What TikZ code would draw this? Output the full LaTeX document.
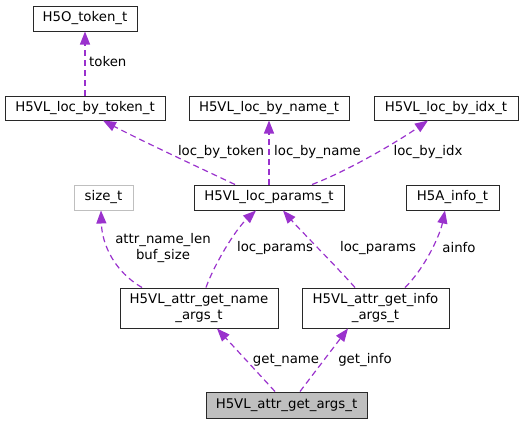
\documentclass[tikz,border=0pt]{standalone}
\usepackage{fontspec}
\setmainfont{DejaVu Sans}
\usetikzlibrary{arrows.meta,calc}
\definecolor{edgec}{RGB}{154,50,205}
\definecolor{boxc}{RGB}{40,40,40}
\definecolor{lgray}{RGB}{191,191,191}
\tikzset{
  box/.style={draw=boxc, line width=1pt, inner sep=0pt, font=\fontsize{13.3}{15.5}\selectfont, align=center},
  edge/.style={draw=edgec, line width=1.2pt, dash pattern=on 6pt off 4pt, -{Triangle[length=13pt,width=10pt]}},
  lbl/.style={font=\fontsize{13.3}{15.5}\selectfont, inner sep=0pt, align=center}
}
\begin{document}
\begin{tikzpicture}[x=1pt,y=-1pt]
\useasboundingbox (0,0) rectangle (525,424);
% nodes
\node[box, minimum width=104pt, minimum height=25pt] (tok) at (85,18.5) {H5O\_token\_t};
\node[box, minimum width=160pt, minimum height=24pt] (lbt) at (85,108) {H5VL\_loc\_by\_token\_t};
\node[box, minimum width=160pt, minimum height=24pt] (lbn) at (269,108) {H5VL\_loc\_by\_name\_t};
\node[box, minimum width=144pt, minimum height=24pt] (lbi) at (446,108) {H5VL\_loc\_by\_idx\_t};
\node[box, draw=lgray, minimum width=59pt, minimum height=25pt] (sz) at (103.5,197.5) {size\_t};
\node[box, minimum width=150pt, minimum height=25pt] (lp) at (269,197.5) {H5VL\_loc\_params\_t};
\node[box, minimum width=93pt, minimum height=25pt] (ai) at (452.5,197.5) {H5A\_info\_t};
\node[box, minimum width=158pt, minimum height=40pt] (gn) at (199,308) {H5VL\_attr\_get\_name\\\_args\_t};
\node[box, minimum width=147pt, minimum height=40pt] (gi) at (375.5,308) {H5VL\_attr\_get\_info\\\_args\_t};
\node[box, fill=lgray, minimum width=161pt, minimum height=26pt] (ga) at (286.5,405) {H5VL\_attr\_get\_args\_t};
% edges
\draw[edge] (lbt.north) -- (tok.south);
\node[lbl, anchor=west] (l1) at (89,62) {token};

\draw[edge] ([xshift=-34pt]lp.north) .. controls (200,168) and (140,140) .. ([xshift=18pt]lbt.south);
\node[lbl] (l2) at (221,152) {loc\_by\_token};

\draw[edge] (lp.north) -- (lbn.south);
\node[lbl, anchor=west] (l3) at (274,152) {loc\_by\_name};

\draw[edge] ([xshift=43pt]lp.north) .. controls (350,170) and (400,140) .. ([xshift=-18pt]lbi.south);
\node[lbl] (l4) at (428,152) {loc\_by\_idx};

\draw[edge] ([xshift=-57pt]gn.north) .. controls (115,272) and (102,245) .. ([xshift=-2.5pt]sz.south);
\node[lbl] (l5) at (163,248) {attr\_name\_len\\buf\_size};

\draw[edge] ([xshift=7pt]gn.north) .. controls (214,265) and (235,230) .. ([xshift=-13pt]lp.south);
\node[lbl] (l6) at (275,248) {loc\_params};

\draw[edge] ([xshift=-20.5pt]gi.north) .. controls (335,265) and (300,230) .. ([xshift=14pt]lp.south);
\node[lbl] (l7) at (378,248) {loc\_params};

\draw[edge] ([xshift=29.5pt]gi.north) .. controls (425,268) and (440,235) .. ([xshift=-7.5pt]ai.south);
\node[lbl] (l8) at (459,248) {ainfo};

\draw[edge] ([xshift=-11.5pt]ga.north) -- ([xshift=18pt]gn.south);
\node[lbl] (l9) at (286,360) {get\_name};

\draw[edge] ([xshift=13.5pt]ga.north) -- ([xshift=-27.5pt]gi.south);
\node[lbl] (l10) at (365,360) {get\_info};
\end{tikzpicture}
\end{document}
